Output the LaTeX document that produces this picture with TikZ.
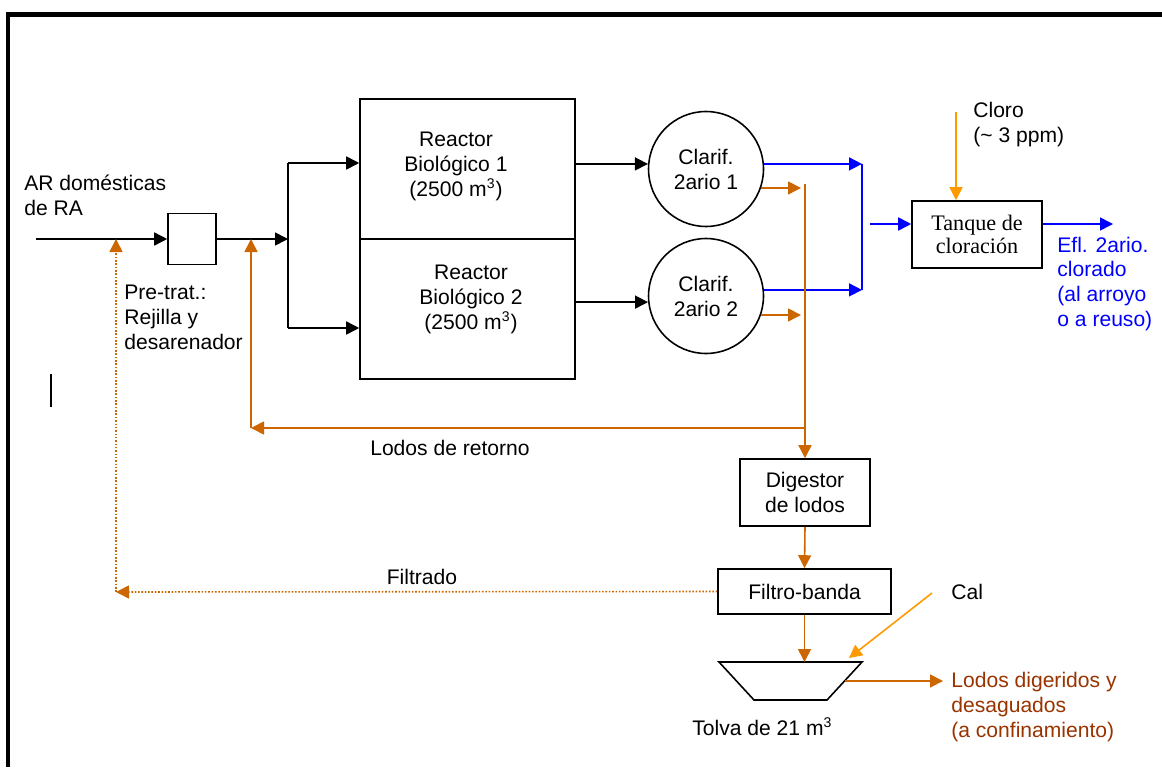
\documentclass[tikz,border=0pt]{standalone}
\usepackage{fontspec}
\setmainfont{Liberation Sans}
\newfontfamily\tanquefont{Liberation Serif}
\usetikzlibrary{arrows.meta}
\definecolor{lodo}{HTML}{CC6600}
\definecolor{reactivo}{HTML}{FF9900}
\definecolor{efluente}{HTML}{0000FF}
\definecolor{lodotxt}{HTML}{993300}

\begin{document}
\begin{tikzpicture}[x=0.02cm,y=-0.02cm,
  font=\fontsize{12pt}{14.2pt}\selectfont,
  >={Triangle[length=7.4pt,width=7.4pt]},
  linea/.style={line width=0.9pt},
  caja/.style={draw,line width=0.9pt,align=center,inner sep=2pt},
  texto/.style={align=left,inner sep=0pt,anchor=west},
  rotulo/.style={align=center,inner sep=0pt},
  azul/.style={line width=0.9pt,draw=efluente},
  flujolodo/.style={line width=0.9pt,draw=lodo},
  reac/.style={line width=0.9pt,draw=reactivo}]
  \useasboundingbox (0,0) rectangle (1162,767);
  \draw[line width=0.1cm] (8,767) -- (8,14.5) -- (1162,14.5);
  \draw[line width=0.7pt] (51,374) -- (51,407);

  \node[caja,minimum width=0.96cm,minimum height=1.02cm] (pre) at (192,239) {};
  \node[caja,minimum width=4.3cm,minimum height=2.8cm] (r1) at (467.5,169) {};
  \node[caja,minimum width=4.3cm,minimum height=2.8cm] (r2) at (467.5,309) {};
  \node[rotulo] (r1t) at (456,166) {Reactor\\Biológico 1\\(2500 m\textsuperscript{3})};
  \node[rotulo] (r2t) at (471,299) {Reactor\\Biológico 2\\(2500 m\textsuperscript{3})};
  \node[caja,circle,minimum size=2.3cm] (c1) at (706,169) {Clarif.\\2ario 1};
  \node[caja,circle,minimum size=2.3cm] (c2) at (706,296) {Clarif.\\2ario 2};
  \node[caja,minimum width=2.6cm,minimum height=1.34cm,
    font=\tanquefont\fontsize{12.6pt}{13.2pt}\selectfont] (tq) at (977,234.5) {Tanque de\\cloración};
  \node[caja,minimum width=2.6cm,minimum height=1.34cm] (dig) at (805,492.5) {Digestor\\de lodos};
  \node[caja,minimum width=3.46cm,minimum height=0.9cm] (fil) at (804.5,591.5) {Filtro-banda};

  \coordinate (tv1) at (719,662);
  \coordinate (tv2) at (862,662);
  \coordinate (tv3) at (827,700);
  \coordinate (tv4) at (754,700);
  \draw[linea] (tv1) -- (tv2) -- (tv3) -- (tv4) -- cycle;

  \coordinate (ent) at (36,239);
  \coordinate (bif) at (288,239);
  \coordinate (b1) at (288,163);
  \coordinate (b2) at (288,328);
  \draw[linea,->] (ent) -- (pre.west);
  \draw[linea,->] (pre.east) -- (bif);
  \draw[linea] (b1) -- (b2);
  \draw[linea,->] (b1) -- (b1 -| r1.west);
  \draw[linea,->] (b2) -- (b2 -| r2.west);
  \draw[linea,->] (c1.175 -| r1.east) -- (c1.175);
  \draw[linea,->] (c2.186 -| r2.east) -- (c2.186);

  \coordinate (az) at (862,226);
  \coordinate (tqin) at (870,224);
  \coordinate (tqout) at (1113,224);
  \draw[azul,->] (c1.5) -- (c1.5 -| az);
  \draw[azul,->] (c2.6) -- (c2.6 -| az);
  \draw[azul] (c1.5 -| az) -- (c2.6 -| az);
  \draw[azul,->] (tqin) -- (tqin -| tq.west);
  \draw[azul,->] (tqout -| tq.east) -- (tqout);
  \coordinate (clo) at (956,112);
  \draw[reac,->] (clo) -- (clo |- tq.north);

  \coordinate (sl) at (805,184);
  \coordinate (sl2) at (801,184);
  \coordinate (rj) at (805,428);
  \coordinate (rc) at (251,428);
  \draw[flujolodo,->] (c1.-19) -- (c1.-19 -| sl2);
  \draw[flujolodo,->] (c2.-19) -- (c2.-19 -| sl2);
  \draw[flujolodo,->] (sl) -- (dig.north);
  \draw[flujolodo,->] (rj) -- (rc);
  \draw[flujolodo,->] (rc) -- (rc |- pre.east);
  \draw[flujolodo,->] (dig.south) -- (fil.north);
  \draw[flujolodo,->] (fil.south) -- (fil.south |- tv1);
  \coordinate (tvs) at (845,681);
  \coordinate (lsal) at (943,681);
  \draw[flujolodo,->] (tvs) -- (lsal);
  \coordinate (cal) at (932,593);
  \coordinate (calin) at (849,658);
  \draw[reac,->] (cal) -- (calin);
  \coordinate (fe) at (116,592);
  \draw[flujolodo,densely dotted,->] (fil.west) -- (fe);
  \draw[flujolodo,densely dotted,->] (fe) -- (fe |- ent);

  \node[texto] (ar) at (24,195) {AR domésticas\\de RA};
  \node[texto] (pt) at (124,317) {Pre-trat.:\\Rejilla y\\desarenador};
  \node[texto] (clt) at (973,125) {Cloro\\(\textasciitilde{} 3 ppm)};
  \node[texto,text=efluente] (eft) at (1057,284) {Efl. 2ario.\\clorado\\(al arroyo\\o a reuso)};
  \node[rotulo] (ret) at (450,448) {Lodos de retorno};
  \node[rotulo] (ftd) at (422,577) {Filtrado};
  \node[texto] (calt) at (951,592) {Cal};
  \node[texto,text=lodotxt] (ldt) at (951,707) {Lodos digeridos y\\desaguados\\(a confinamiento)};
  \node[texto] (tvt) at (692,727) {Tolva de 21 m\textsuperscript{3}};
\end{tikzpicture}
\end{document}
